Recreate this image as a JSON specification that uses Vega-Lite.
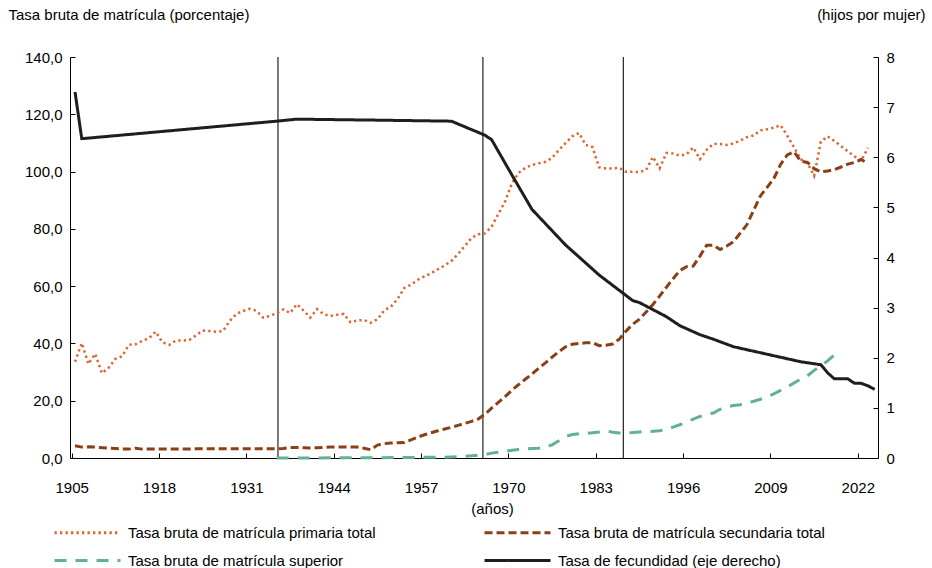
{
  "$schema": "https://vega.github.io/schema/vega-lite/v6.json",
  "width": 808,
  "height": 401,
  "autosize": {"type": "none"},
  "padding": {"left": 70, "top": 57, "right": 54, "bottom": 110},
  "background": "white",
  "config": {
    "font": "Liberation Sans",
    "view": {"stroke": null},
    "axis": {"labelFontSize": 15, "titleFontSize": 15, "titleFontWeight": "normal", "labelColor": "#000", "titleColor": "#000", "domainColor": "#000", "tickColor": "#000", "grid": false, "domainWidth": 1, "tickWidth": 1}
  },
  "datasets": {
    "primaria": [
      {"year":1905,"value":33.6},{"year":1906,"value":40.1},{"year":1907,"value":32.8},{"year":1908,"value":36.4},{"year":1909,"value":29.6},
      {"year":1910,"value":31.5},{"year":1911,"value":34.6},{"year":1912,"value":35.5},{"year":1913,"value":39.5},{"year":1914,"value":39.7},
      {"year":1915,"value":40.9},{"year":1916,"value":41.8},{"year":1917,"value":44.1},{"year":1918,"value":40.4},{"year":1919,"value":39.5},
      {"year":1920,"value":41.0},{"year":1921,"value":41.0},{"year":1922,"value":41.2},{"year":1923,"value":42.8},{"year":1924,"value":44.5},
      {"year":1925,"value":44.3},{"year":1926,"value":44.1},{"year":1927,"value":44.3},{"year":1928,"value":47.8},{"year":1929,"value":50.3},
      {"year":1930,"value":51.3},{"year":1931,"value":52.1},{"year":1932,"value":51.4},{"year":1933,"value":49.0},{"year":1934,"value":49.6},
      {"year":1935,"value":50.6},{"year":1936,"value":51.9},{"year":1937,"value":50.6},{"year":1938,"value":53.7},{"year":1939,"value":51.5},
      {"year":1940,"value":49.0},{"year":1941,"value":52.0},{"year":1942,"value":50.2},{"year":1943,"value":49.6},{"year":1944,"value":50.0},
      {"year":1945,"value":50.3},{"year":1946,"value":47.4},{"year":1947,"value":48.0},{"year":1948,"value":48.2},{"year":1949,"value":47.2},
      {"year":1950,"value":48.4},{"year":1951,"value":51.5},{"year":1952,"value":52.8},{"year":1953,"value":55.5},{"year":1954,"value":59.4},
      {"year":1955,"value":60.5},{"year":1956,"value":62.2},{"year":1957,"value":63.4},{"year":1958,"value":64.5},{"year":1959,"value":65.9},
      {"year":1960,"value":67.2},{"year":1961,"value":68.8},{"year":1962,"value":71.2},{"year":1963,"value":74.0},{"year":1964,"value":76.8},
      {"year":1965,"value":78.1},{"year":1966,"value":78.4},{"year":1967,"value":80.8},{"year":1968,"value":85.2},{"year":1969,"value":89.5},
      {"year":1970,"value":95.8},{"year":1971,"value":99.5},{"year":1972,"value":101.3},{"year":1973,"value":102.3},{"year":1974,"value":102.9},
      {"year":1975,"value":103.4},{"year":1976,"value":104.8},{"year":1977,"value":107.5},{"year":1978,"value":109.9},{"year":1979,"value":112.3},
      {"year":1980,"value":113.5},{"year":1981,"value":109.3},{"year":1982,"value":108.6},{"year":1983,"value":101.5},{"year":1984,"value":101.1},
      {"year":1985,"value":101.1},{"year":1986,"value":101.3},{"year":1987,"value":99.9},{"year":1988,"value":99.9},{"year":1989,"value":99.8},
      {"year":1990,"value":100.6},{"year":1991,"value":105.1},{"year":1992,"value":101.1},{"year":1993,"value":106.5},{"year":1994,"value":106.3},
      {"year":1995,"value":105.6},{"year":1996,"value":106.0},{"year":1997,"value":108.4},{"year":1998,"value":104.3},{"year":1999,"value":107.6},
      {"year":2000,"value":109.7},{"year":2001,"value":109.6},{"year":2002,"value":109.3},{"year":2003,"value":109.8},{"year":2004,"value":110.8},
      {"year":2005,"value":112.0},{"year":2006,"value":112.6},{"year":2007,"value":114.4},{"year":2008,"value":114.8},{"year":2009,"value":115.3},
      {"year":2010,"value":116.2},{"year":2011,"value":112.5},{"year":2012,"value":108.5},{"year":2013,"value":104.3},{"year":2014,"value":103.0},
      {"year":2015,"value":98.5},{"year":2016,"value":110.5},{"year":2017,"value":112.3},{"year":2018,"value":110.7},{"year":2019,"value":108.9},
      {"year":2020,"value":107.1},{"year":2021,"value":105.3},{"year":2022,"value":103.8},{"year":2023,"value":108.3}
    ],
    "secundaria": [
      {"year":1905,"value":4.3},{"year":1906,"value":3.8},{"year":1907,"value":3.9},{"year":1908,"value":3.8},{"year":1909,"value":3.6},
      {"year":1910,"value":3.4},{"year":1911,"value":3.3},{"year":1912,"value":3.1},{"year":1913,"value":3.1},{"year":1914,"value":3.4},
      {"year":1915,"value":3.1},{"year":1916,"value":3.1},{"year":1917,"value":3.1},{"year":1918,"value":3.1},{"year":1919,"value":3.1},
      {"year":1920,"value":3.1},{"year":1921,"value":3.1},{"year":1922,"value":3.1},{"year":1923,"value":3.2},{"year":1924,"value":3.2},
      {"year":1925,"value":3.2},{"year":1926,"value":3.2},{"year":1927,"value":3.2},{"year":1928,"value":3.2},{"year":1929,"value":3.2},
      {"year":1930,"value":3.2},{"year":1931,"value":3.2},{"year":1932,"value":3.2},{"year":1933,"value":3.2},{"year":1934,"value":3.2},
      {"year":1935,"value":3.2},{"year":1936,"value":3.3},{"year":1937,"value":3.7},{"year":1938,"value":3.7},{"year":1939,"value":3.6},
      {"year":1940,"value":3.5},{"year":1941,"value":3.6},{"year":1942,"value":3.7},{"year":1943,"value":3.8},{"year":1944,"value":3.8},
      {"year":1945,"value":3.8},{"year":1946,"value":3.8},{"year":1947,"value":3.8},{"year":1948,"value":3.4},{"year":1949,"value":2.9},
      {"year":1950,"value":4.5},{"year":1951,"value":5.0},{"year":1952,"value":5.2},{"year":1953,"value":5.3},{"year":1954,"value":5.4},
      {"year":1955,"value":6.3},{"year":1956,"value":7.3},{"year":1957,"value":8.1},{"year":1958,"value":8.8},{"year":1959,"value":9.5},
      {"year":1960,"value":10.1},{"year":1961,"value":10.7},{"year":1962,"value":11.4},{"year":1963,"value":12.1},{"year":1964,"value":12.8},
      {"year":1965,"value":13.6},{"year":1966,"value":15.3},{"year":1967,"value":17.4},{"year":1968,"value":19.4},{"year":1969,"value":21.4},
      {"year":1970,"value":23.6},{"year":1971,"value":25.6},{"year":1972,"value":27.5},{"year":1973,"value":29.3},{"year":1974,"value":31.3},
      {"year":1975,"value":33.2},{"year":1976,"value":35.2},{"year":1977,"value":37.1},{"year":1978,"value":38.8},{"year":1979,"value":39.7},
      {"year":1980,"value":40.0},{"year":1981,"value":40.2},{"year":1982,"value":40.3},{"year":1983,"value":39.2},{"year":1984,"value":39.4},
      {"year":1985,"value":39.8},{"year":1986,"value":41.5},{"year":1987,"value":44.3},{"year":1988,"value":46.7},{"year":1989,"value":48.5},
      {"year":1990,"value":51.0},{"year":1991,"value":53.6},{"year":1992,"value":56.5},{"year":1993,"value":59.6},{"year":1994,"value":62.6},
      {"year":1995,"value":65.4},{"year":1996,"value":66.8},{"year":1997,"value":67.0},{"year":1998,"value":70.5},{"year":1999,"value":74.3},
      {"year":2000,"value":74.3},{"year":2001,"value":72.8},{"year":2002,"value":74.0},{"year":2003,"value":75.5},{"year":2004,"value":78.5},
      {"year":2005,"value":81.5},{"year":2006,"value":86.5},{"year":2007,"value":91.5},{"year":2008,"value":94.5},{"year":2009,"value":97.6},
      {"year":2010,"value":102.5},{"year":2011,"value":105.8},{"year":2012,"value":106.9},{"year":2013,"value":103.6},{"year":2014,"value":103.2},
      {"year":2015,"value":101.0},{"year":2016,"value":99.9},{"year":2017,"value":100.2},{"year":2018,"value":100.7},{"year":2019,"value":101.6},
      {"year":2020,"value":102.6},{"year":2021,"value":103.2},{"year":2022,"value":104.2},{"year":2023,"value":102.8}
    ],
    "superior": [
      {"year":1935,"value":0.0},{"year":1940,"value":0.0},{"year":1945,"value":0.1},{"year":1950,"value":0.1},{"year":1955,"value":0.2},
      {"year":1960,"value":0.3},{"year":1962,"value":0.5},{"year":1963,"value":0.6},{"year":1964,"value":0.8},{"year":1965,"value":1.0},
      {"year":1966,"value":1.2},{"year":1967,"value":1.7},{"year":1968,"value":2.0},{"year":1969,"value":2.3},{"year":1970,"value":2.7},
      {"year":1971,"value":3.0},{"year":1972,"value":3.2},{"year":1973,"value":3.3},{"year":1974,"value":3.4},{"year":1975,"value":3.9},
      {"year":1976,"value":4.6},{"year":1977,"value":6.0},{"year":1978,"value":7.5},{"year":1979,"value":8.2},{"year":1980,"value":8.5},
      {"year":1981,"value":8.6},{"year":1982,"value":8.8},{"year":1983,"value":9.1},{"year":1984,"value":9.5},{"year":1985,"value":9.0},
      {"year":1986,"value":8.7},{"year":1987,"value":8.8},{"year":1988,"value":8.9},{"year":1989,"value":9.1},{"year":1990,"value":9.2},
      {"year":1991,"value":9.3},{"year":1992,"value":9.5},{"year":1993,"value":10.0},{"year":1994,"value":10.8},{"year":1995,"value":11.6},
      {"year":1996,"value":12.5},{"year":1997,"value":13.6},{"year":1998,"value":14.5},{"year":1999,"value":15.2},{"year":2000,"value":15.7},
      {"year":2001,"value":17.0},{"year":2002,"value":17.9},{"year":2003,"value":18.3},{"year":2004,"value":18.6},{"year":2005,"value":19.2},
      {"year":2006,"value":19.8},{"year":2007,"value":20.5},{"year":2008,"value":21.4},{"year":2009,"value":22.4},{"year":2010,"value":23.6},
      {"year":2011,"value":24.8},{"year":2012,"value":26.2},{"year":2013,"value":27.6},{"year":2014,"value":28.7},{"year":2015,"value":30.6},
      {"year":2016,"value":32.3},{"year":2017,"value":33.9},{"year":2018,"value":36.0}
    ],
    "fecundidad": [
      {"year":1905,"value":7.30},{"year":1906,"value":6.37},{"year":1935,"value":6.72},{"year":1938,"value":6.76},{"year":1950,"value":6.74},
      {"year":1961,"value":6.72},{"year":1966,"value":6.44},{"year":1967,"value":6.35},{"year":1970,"value":5.65},{"year":1973,"value":4.96},
      {"year":1978,"value":4.25},{"year":1983,"value":3.65},{"year":1988,"value":3.14},{"year":1989,"value":3.10},{"year":1993,"value":2.82},
      {"year":1995,"value":2.64},{"year":1998,"value":2.46},{"year":2000,"value":2.37},{"year":2003,"value":2.22},{"year":2008,"value":2.07},
      {"year":2013,"value":1.92},{"year":2016,"value":1.86},{"year":2017,"value":1.70},{"year":2018,"value":1.58},{"year":2020,"value":1.58},
      {"year":2021,"value":1.49},{"year":2022,"value":1.49},{"year":2023,"value":1.44},{"year":2024,"value":1.37}
    ],
    "hitos": [{"year":1935.2},{"year":1965.7},{"year":1986.6}]
  },
  "encoding": {
    "x": {
      "field": "year", "type": "quantitative",
      "scale": {"domain": [1904.25, 2024.5], "nice": false, "zero": false},
      "axis": {"values": [1905,1918,1931,1944,1957,1970,1983,1996,2009,2022], "format": "d", "title": "(años)", "tickSize": -5, "tickOffset": -3.4, "labelPadding": 27, "labelFlush": false, "titleX": 422, "titleY": 50, "titleBaseline": "middle", "titleAlign": "center"}
    }
  },
  "layer": [
    {
      "layer": [
        {
          "data": {"name": "hitos"},
          "mark": {"type": "rule", "color": "#222222", "strokeWidth": 1.2}
        },
        {
          "data": {"name": "primaria"},
          "mark": {"type": "line", "strokeWidth": 2.5, "strokeCap": "butt"},
          "encoding": {
            "y": {
              "field": "value", "type": "quantitative",
              "scale": {"domain": [0, 140], "nice": false},
              "axis": {"values": [0,20,40,60,80,100,120,140], "labelExpr": "replace(format(datum.value, '.1f'), '.', ',')", "title": "Tasa bruta de matrícula (porcentaje)", "titleAngle": 0, "titleAlign": "left", "titleX": -62, "titleY": -43, "titleBaseline": "middle", "tickSize": -5, "labelPadding": 13}
            },
            "color": {"datum": "Tasa bruta de matrícula primaria total", "type": "nominal"},
            "strokeDash": {"datum": "Tasa bruta de matrícula primaria total", "type": "nominal"}
          }
        },
        {
          "data": {"name": "secundaria"},
          "mark": {"type": "line", "strokeWidth": 3, "strokeCap": "butt"},
          "encoding": {
            "y": {"field": "value", "type": "quantitative", "scale": {"domain": [0, 140], "nice": false}},
            "color": {"datum": "Tasa bruta de matrícula secundaria total", "type": "nominal"},
            "strokeDash": {"datum": "Tasa bruta de matrícula secundaria total", "type": "nominal"}
          }
        },
        {
          "data": {"name": "superior"},
          "mark": {"type": "line", "strokeWidth": 3, "strokeCap": "butt"},
          "encoding": {
            "y": {"field": "value", "type": "quantitative", "scale": {"domain": [0, 140], "nice": false}},
            "color": {"datum": "Tasa bruta de matrícula superior", "type": "nominal"},
            "strokeDash": {"datum": "Tasa bruta de matrícula superior", "type": "nominal"}
          }
        }
      ]
    },
    {
      "data": {"name": "fecundidad"},
      "mark": {"type": "line", "strokeWidth": 3},
      "encoding": {
        "y": {
          "field": "value", "type": "quantitative",
          "scale": {"domain": [0, 8], "nice": false},
          "axis": {"orient": "right", "values": [0,1,2,3,4,5,6,7,8], "format": "d", "title": "(hijos por mujer)", "titleAngle": 0, "titleAlign": "right", "titleX": 47, "titleY": -43, "titleBaseline": "middle", "tickSize": -5, "labelPadding": 13}
        },
        "color": {
          "datum": "Tasa de fecundidad (eje derecho)", "type": "nominal",
          "scale": {"domain": ["Tasa bruta de matrícula primaria total", "Tasa bruta de matrícula superior", "Tasa bruta de matrícula secundaria total", "Tasa de fecundidad (eje derecho)"], "range": ["#DD6330", "#62B097", "#8A3F17", "#1E1E1E"]},
          "legend": {"title": null, "orient": "none", "legendX": -17, "legendY": 464, "columns": 2, "symbolType": "M-1,0H5.6", "symbolSize": 400, "symbolStrokeWidth": 3, "labelFontSize": 15, "labelColor": "#000", "labelLimit": 500, "labelOffset": 52, "rowPadding": 8, "columnPadding": 102, "padding": 0}
        },
        "strokeDash": {
          "datum": "Tasa de fecundidad (eje derecho)", "type": "nominal",
          "scale": {"domain": ["Tasa bruta de matrícula primaria total", "Tasa bruta de matrícula superior", "Tasa bruta de matrícula secundaria total", "Tasa de fecundidad (eje derecho)"], "range": [[2.3, 3.2], [12, 9], [8, 4], [1, 0]]},
          "legend": {"title": null, "orient": "none", "legendX": -17, "legendY": 464, "columns": 2, "symbolType": "M-1,0H5.6", "symbolSize": 400, "symbolStrokeWidth": 3, "labelFontSize": 15, "labelColor": "#000", "labelLimit": 500, "labelOffset": 52, "rowPadding": 8, "columnPadding": 102, "padding": 0}
        }
      }
    }
  ],
  "resolve": {"scale": {"y": "independent"}}
}
